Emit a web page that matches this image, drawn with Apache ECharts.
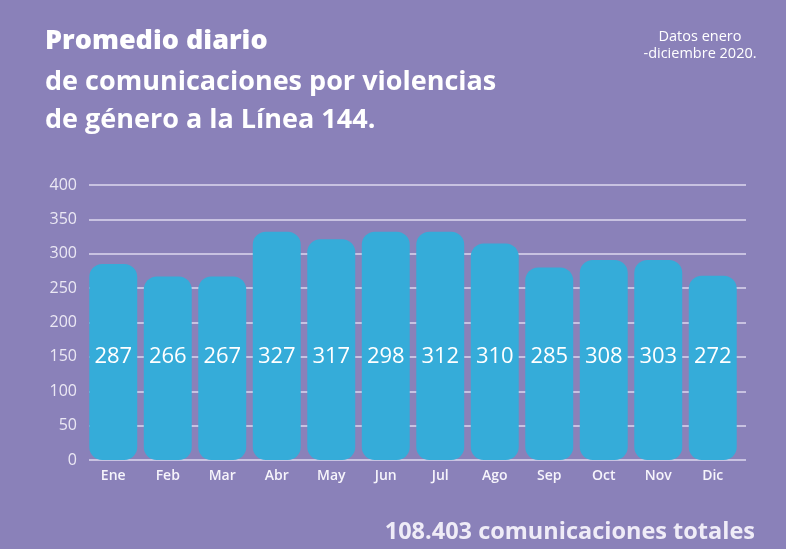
<!DOCTYPE html>
<html>
<head>
<meta charset="utf-8">
<script src="https://cdn.jsdelivr.net/npm/echarts@6/dist/echarts.min.js"></script>
<style>
html,body{margin:0;padding:0;background:#8a81b9;}
#c{width:786px;height:549px;}
</style>
</head>
<body>
<div id="c"></div>
<script>
const categories = ['Ene','Feb','Mar','Abr','May','Jun','Jul','Ago','Sep','Oct','Nov','Dic'];
// bar heights as drawn in the picture
const barHeights = [285, 267, 267, 332, 321, 332, 332, 315, 280, 291, 291, 268];
// values printed inside the bars
const labelValues = [287, 266, 267, 327, 317, 298, 312, 310, 285, 308, 303, 272];
const yTicks = {min: 0, max: 400, interval: 50};

const chart = echarts.init(document.getElementById('c'));
const fam = '"Open Sans", "Noto Sans", sans-serif';
chart.setOption({
  backgroundColor: '#8a81b9',
  animation: false,
  graphic: [
    {type: 'text', left: 45, top: 28, style: {text: 'Promedio diario', fill: '#ffffff', font: '800 27px ' + fam}},
    {type: 'text', left: 45, top: 63, style: {text: 'de comunicaciones por violencias\nde género a la Línea 144.', fill: '#ffffff', font: '700 27px ' + fam, lineHeight: 38}},
    {type: 'text', x: 700, y: 28, style: {text: 'Datos enero\n-diciembre 2020.', fill: '#ffffff', font: '400 14.5px ' + fam, lineHeight: 17, align: 'center'}},
    {type: 'text', right: 31, top: 520, style: {text: '108.403 comunicaciones totales', fill: '#efecf7', font: '700 23.5px ' + fam}}
  ],
  grid: [
    {left: 89, right: 40, top: 185, bottom: 89},
    {left: 86, right: 46, top: 185, bottom: 89}
  ],
  xAxis: [
    {type: 'category', gridIndex: 0, data: categories, show: false},
    {
      type: 'category', gridIndex: 1,
      data: categories,
      axisLine: {show: false},
      axisTick: {show: false},
      axisLabel: {color: '#f6f4fb', fontFamily: fam, fontSize: 14, fontWeight: 600, margin: 9}
    }
  ],
  yAxis: [
    {
      type: 'value', gridIndex: 0,
      min: yTicks.min, max: yTicks.max, interval: yTicks.interval,
      axisLine: {show: false},
      axisTick: {show: false},
      axisLabel: {color: '#ebe8f4', fontFamily: fam, fontSize: 16, margin: 12},
      splitLine: {lineStyle: {color: '#ddd8ef', width: 1.5}}
    },
    {
      type: 'value', gridIndex: 1,
      min: yTicks.min, max: yTicks.max, interval: yTicks.interval,
      show: false
    }
  ],
  series: [{
    type: 'bar',
    xAxisIndex: 1, yAxisIndex: 1,
    data: barHeights,
    barCategoryGap: '12%',
    itemStyle: {color: '#35acd9', borderRadius: 13},
    label: {
      show: true,
      position: 'insideBottom',
      distance: 92,
      color: '#ffffff',
      fontFamily: fam,
      fontSize: 22,
      fontWeight: 500,
      formatter: p => String(labelValues[p.dataIndex])
    }
  }]
});
</script>
</body>
</html>
